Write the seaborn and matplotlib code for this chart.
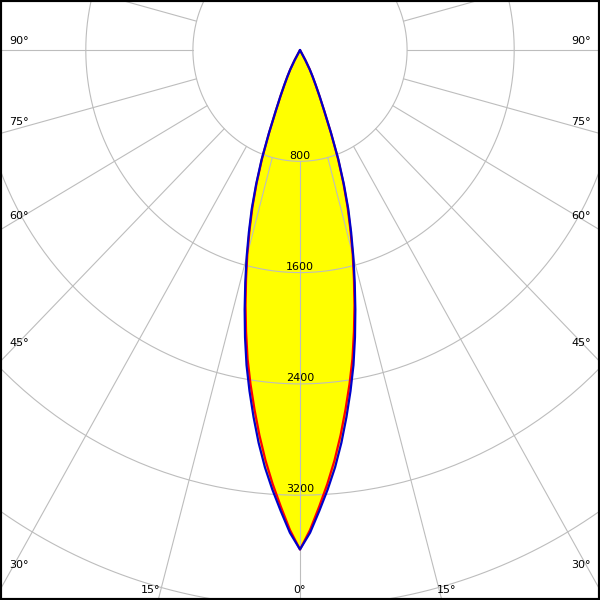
import numpy as np
import pandas as pd
import matplotlib
matplotlib.use("Agg")
import matplotlib.pyplot as plt
from matplotlib.patches import Rectangle
import seaborn as sns

# luminous intensity (cd), gamma in degrees from nadir
gamma = [0, 1.25, 2.5, 3.75, 5, 6.25, 7.5, 8.75, 10, 11.25, 12.5, 13.75, 15,
         16.25, 17.5, 18.75, 20, 21.25, 22.5, 23.75, 25, 26.25, 27.5, 28.75, 30]
c0_c180 = [3590, 3450, 3285, 3125, 2960, 2785, 2605, 2430, 2255, 2065, 1880, 1695, 1520,
           1345, 1180, 1005, 825, 630, 465, 358, 270, 208, 155, 82, 0]
c90_c270 = [3590, 3470, 3315, 3165, 3010, 2840, 2660, 2480, 2300, 2105, 1910, 1720, 1540,
            1365, 1200, 1020, 840, 640, 475, 365, 280, 215, 160, 85, 0]

ring_values = [800, 1600, 2400, 3200, 4000, 4800]
ring_labels = [800, 1600, 2400, 3200]
side_angles = [30, 45, 60, 75, 90]
bottom_angles = [0, 15]

# pixel scale of the original (slightly squeezed horizontally)
SX = 107.1 / 800
SY = 111.3 / 800
GRID = "#BDBDBD"


def to_xy(angles, values):
    # left half (C180 / C270) then right half (C0 / C90)
    g = np.radians(np.concatenate([-np.array(angles[::-1]), np.array(angles[1:])]))
    v = np.concatenate([np.array(values[::-1]), np.array(values[1:])])
    return v * np.sin(g), -v * np.cos(g)


frames = []
for name, vals in [("C0-C180", c0_c180), ("C90-C270", c90_c270)]:
    x, y = to_xy(gamma, vals)
    frames.append(pd.DataFrame({"plane": name, "x": x, "y": y}))
df = pd.concat(frames, ignore_index=True)

sns.set_style("white")
plt.rcParams["font.family"] = ["DejaVu Sans"]
plt.rcParams["text.color"] = "black"

fig = plt.figure(figsize=(6, 6), dpi=100)
ax = fig.add_axes([0, 0, 1, 1])

# yellow fill under the outer curve
outer = df[df["plane"] == "C90-C270"]
ax.fill(outer["x"], outer["y"], color="#FFFF00", zorder=0.5, lw=0)

# grid: rings and rays (rays start at the first ring)
t = np.linspace(0, 2 * np.pi, 400)
for r in ring_values:
    ax.plot(r * np.sin(t), r * np.cos(t), color=GRID, lw=0.8, zorder=1)
for a in range(0, 360, 15):
    ar = np.radians(a)
    ax.plot([800 * np.sin(ar), 9000 * np.sin(ar)], [-800 * np.cos(ar), -9000 * np.cos(ar)],
            color=GRID, lw=0.8, zorder=1)

sns.lineplot(data=df, x="x", y="y", hue="plane", hue_order=["C0-C180", "C90-C270"],
             palette={"C0-C180": "#FF0000", "C90-C270": "#0000CC"},
             sort=False, estimator=None, lw=1.6, legend=False, ax=ax, zorder=2)
ax.set_xlim(-300 / SX, 300 / SX)
ax.set_ylim(-550 / SY, 50 / SY)
ax.set_axis_off()

# ring labels
for r in ring_labels:
    ax.text(0, -r + 2.7 / SY, str(r), ha="center", va="baseline", fontsize=8,
            color="black", zorder=3)

# angle labels on the sides
xl = (300 - 9) / SX
for a in side_angles:
    ar = np.radians(a)
    yy = -xl * np.cos(ar) / np.sin(ar) + 6 / SY
    ax.text(-xl, yy, f"{a}°", ha="left", va="baseline", fontsize=8, color="black", zorder=3)
    ax.text(xl, yy, f"{a}°", ha="right", va="baseline", fontsize=8, color="black", zorder=3)

# angle labels along the bottom
yb = -543 / SY
for a in bottom_angles:
    xx = -yb * np.tan(np.radians(a))
    if a == 0:
        ax.text(0, yb, f"{a}°", ha="center", va="baseline", fontsize=8, color="black", zorder=3)
    else:
        ax.text(-xx, yb, f"{a}°", ha="right", va="baseline", fontsize=8, color="black", zorder=3)
        ax.text(xx - 3 / SX, yb, f"{a}°", ha="left", va="baseline", fontsize=8,
                color="black", zorder=3)

fig.patches.append(Rectangle((0, 0), 1, 1, transform=fig.transFigure, fill=False,
                             ec="black", lw=3))

fig.savefig("out.png", dpi=100)
